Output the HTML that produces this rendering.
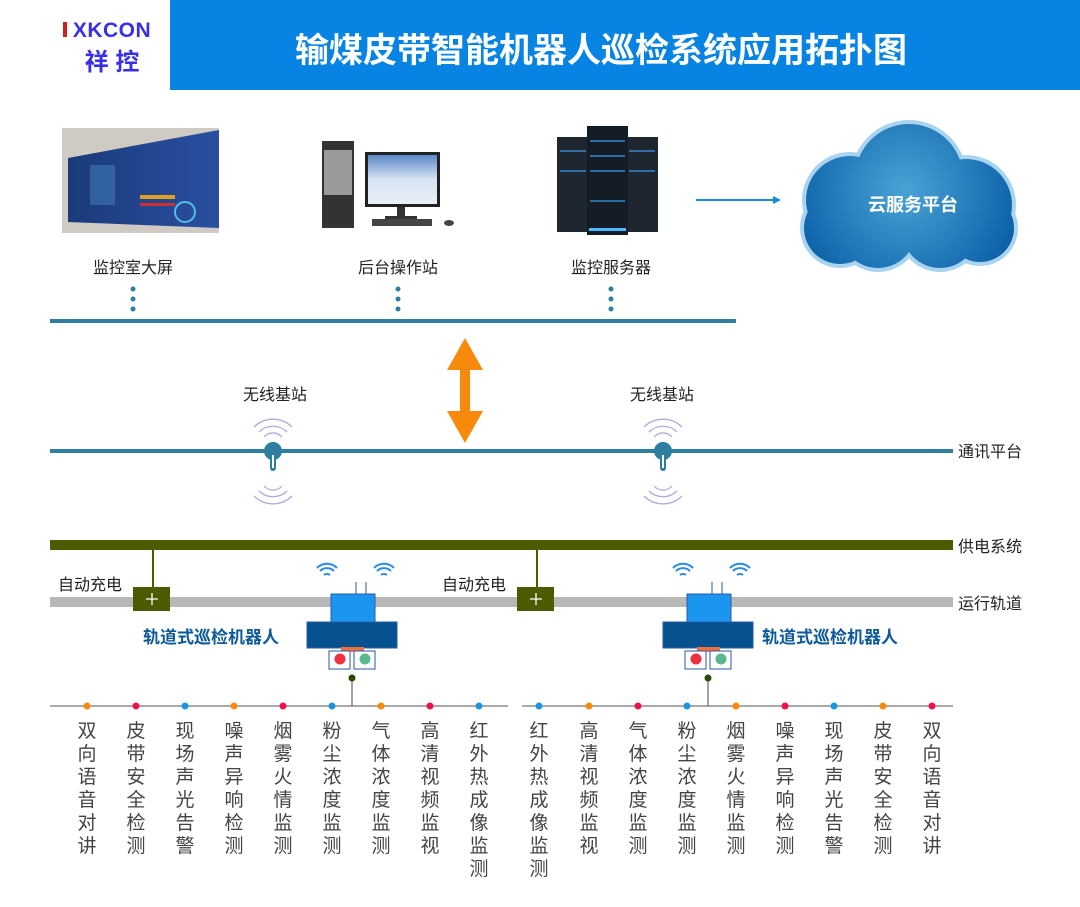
<!DOCTYPE html>
<html><head><meta charset="utf-8"><style>
body{margin:0;background:#fff}
svg{display:block}
text{font-family:"Liberation Sans","Noto Sans CJK SC",sans-serif}
</style></head><body>
<svg width="1080" height="907" viewBox="0 0 1080 907" xmlns="http://www.w3.org/2000/svg">
<defs>
<radialGradient id="cg" gradientUnits="userSpaceOnUse" cx="905" cy="190" r="120"><stop offset="0" stop-color="#4aa3d6"/><stop offset="1" stop-color="#0a5fa6"/></radialGradient>
<linearGradient id="scr" x1="0" x2="1"><stop offset="0" stop-color="#1a3a7a"/><stop offset="1" stop-color="#2a4fa0"/></linearGradient>
<linearGradient id="mon" x1="0" y1="0" x2="0" y2="1"><stop offset="0" stop-color="#5a88c8"/><stop offset="0.5" stop-color="#d8e4f2"/><stop offset="1" stop-color="#e8f0f8"/></linearGradient>
</defs>
<!-- header -->
<rect x="170" y="0" width="910" height="90" fill="#0784e3"/>
<text x="112" y="37" font-size="21" font-weight="bold" fill="#3a2ee8" text-anchor="middle" letter-spacing="0.5">XKCON</text>
<rect x="63" y="22" width="4" height="15" fill="#d02020"/>
<text x="112" y="70" font-size="24" font-weight="bold" fill="#3a2ee8" text-anchor="middle">祥 控</text>
<text x="601" y="62" font-size="34" font-weight="bold" fill="#fff" text-anchor="middle">输煤皮带智能机器人巡检系统应用拓扑图</text>
<!-- screen wall -->
<rect x="62" y="128" width="157" height="105" fill="#cfcac4"/>
<polygon points="68,158 219,130 219,228 68,222" fill="url(#scr)"/>
<rect x="90" y="165" width="25" height="40" fill="#3b6fb0" opacity="0.7"/>
<rect x="140" y="195" width="35" height="4" fill="#e0a020"/>
<rect x="140" y="203" width="35" height="3" fill="#d03030"/>
<circle cx="185" cy="212" r="10" fill="none" stroke="#4fc0e0" stroke-width="2"/>
<!-- PC -->
<rect x="322" y="141" width="32" height="87" fill="#333"/>
<rect x="324" y="150" width="28" height="45" fill="#9a9a9a"/>
<rect x="365" y="152" width="75" height="55" fill="#222"/>
<rect x="368" y="155" width="69" height="49" fill="url(#mon)"/>
<rect x="397" y="207" width="8" height="10" fill="#333"/>
<rect x="385" y="216" width="32" height="3" fill="#333"/>
<rect x="372" y="219" width="60" height="7" fill="#444"/>
<ellipse cx="449" cy="223" rx="5" ry="3" fill="#444"/>
<!-- servers -->
<rect x="557" y="137" width="32" height="95" fill="#1e2630"/>
<rect x="626" y="137" width="32" height="95" fill="#1e2630"/>
<rect x="587" y="126" width="41" height="109" fill="#141c26"/>
<g fill="#3a8fd8" opacity="0.7">
<rect x="590" y="140" width="35" height="2"/><rect x="590" y="155" width="35" height="2"/><rect x="590" y="170" width="35" height="2"/><rect x="590" y="200" width="35" height="2"/>
<rect x="560" y="150" width="26" height="2"/><rect x="560" y="170" width="26" height="2"/><rect x="629" y="150" width="26" height="2"/><rect x="629" y="170" width="26" height="2"/>
</g>
<rect x="589" y="228" width="37" height="3" fill="#4fb8ff"/>
<!-- labels -->
<g font-size="16" fill="#222" text-anchor="middle">
<text x="133" y="273">监控室大屏</text><text x="398" y="273">后台操作站</text><text x="611" y="273">监控服务器</text>
</g>
<g fill="#2e7f9f">
<circle cx="133" cy="289" r="2.5"/><circle cx="133" cy="299" r="2.5"/><circle cx="133" cy="309" r="2.5"/>
<circle cx="398" cy="289" r="2.5"/><circle cx="398" cy="299" r="2.5"/><circle cx="398" cy="309" r="2.5"/>
<circle cx="611" cy="289" r="2.5"/><circle cx="611" cy="299" r="2.5"/><circle cx="611" cy="309" r="2.5"/>
</g>
<rect x="50" y="319" width="686" height="4" fill="#2e7f9f"/>
<!-- arrow to cloud -->
<line x1="696" y1="200" x2="774" y2="200" stroke="#1a8ad8" stroke-width="2"/>
<polygon points="781,200 773,196 773,204" fill="#1a8ad8"/>
<!-- cloud -->
<g fill="#a8d4f0">
<circle cx="909" cy="178" r="58"/><circle cx="850" cy="200" r="48"/><circle cx="966" cy="205" r="50"/><circle cx="878" cy="230" r="42"/><circle cx="940" cy="230" r="42"/><circle cx="840" cy="228" r="40"/><circle cx="980" cy="228" r="38"/>
</g>
<g fill="url(#cg)">
<circle cx="909" cy="178" r="54"/><circle cx="850" cy="200" r="44"/><circle cx="966" cy="205" r="46"/><circle cx="878" cy="230" r="38"/><circle cx="940" cy="230" r="38"/><circle cx="840" cy="228" r="36"/><circle cx="980" cy="228" r="34"/>
</g>
<text x="913" y="211" font-size="18" font-weight="bold" fill="#fff" text-anchor="middle">云服务平台</text>
<!-- orange double arrow -->
<polygon points="465,338 483,370 470,370 470,411 483,411 465,443 447,411 460,411 460,370 447,370" fill="#f78a0c"/>
<!-- comm line -->
<rect x="50" y="449" width="903" height="4" fill="#2e7f9f"/>
<text x="958" y="457" font-size="16" fill="#222">通讯平台</text>
<g font-size="16" fill="#222" text-anchor="middle"><text x="275" y="400">无线基站</text><text x="662" y="400">无线基站</text></g>
<g id="bs">
<g fill="none" stroke="#b4a8dc" stroke-width="1.3">
<path d="M259,432 A20,20 0 0 1 287,432"/><path d="M254,427 A27,27 0 0 1 292,427"/><path d="M264,437 A12,12 0 0 1 282,437"/>
<path d="M259,491 A20,20 0 0 0 287,491"/><path d="M254,496 A27,27 0 0 0 292,496"/><path d="M264,486 A12,12 0 0 0 282,486"/>
</g>
<circle cx="273" cy="451" r="9" fill="#2e7f9f"/>
<rect x="270" y="451" width="6" height="20" rx="3" fill="#2e7f9f"/>
<rect x="272" y="455" width="2" height="13" fill="#fff"/>
</g>
<use href="#bs" x="390"/>
<!-- power -->
<rect x="50" y="540" width="903" height="10" fill="#4d5a00"/>
<text x="958" y="552" font-size="16" fill="#222">供电系统</text>
<rect x="50" y="597" width="903" height="10" fill="#b8b8b8"/>
<text x="958" y="609" font-size="16" fill="#222">运行轨道</text>
<g id="chg">
<line x1="153" y1="545" x2="153" y2="588" stroke="#4d5a00" stroke-width="2"/>
<rect x="133" y="587" width="37" height="24" fill="#4d5a00"/>
<path d="M152,593 v12 M146,599 h12" stroke="#fff" stroke-width="1.3"/>
<text x="58" y="590" font-size="16" fill="#222">自动充电</text>
</g>
<use href="#chg" x="384"/>
<!-- robot -->
<g id="rb">
<g fill="none" stroke="#2a8ae8" stroke-width="2">
<path d="M320,571 A10,10 0 0 1 334,571"/><path d="M317,568 A14,14 0 0 1 337,568"/><path d="M324,575 A5,5 0 0 1 330,575"/>
<path d="M377,571 A10,10 0 0 1 391,571"/><path d="M374,568 A14,14 0 0 1 394,568"/><path d="M381,575 A5,5 0 0 1 387,575"/>
</g>
<line x1="356" y1="582" x2="356" y2="594" stroke="#2a5aa8"/><line x1="366" y1="582" x2="366" y2="594" stroke="#2a5aa8"/>
<rect x="331" y="594" width="44" height="28" fill="#1a96f0" stroke="#2a5aa8"/>
<rect x="307" y="622" width="90" height="26" fill="#05528f" stroke="#2a5aa8"/>
<rect x="341" y="647" width="23" height="5" fill="#f07040"/>
<rect x="329" y="651" width="21" height="18" fill="#fff" stroke="#2a5aa8"/>
<rect x="354" y="651" width="21" height="18" fill="#fff" stroke="#2a5aa8"/>
<circle cx="340" cy="659" r="5.5" fill="#f03040"/><circle cx="365" cy="659" r="5.5" fill="#5ab890"/>
<line x1="352" y1="678" x2="352" y2="706" stroke="#444"/>
<circle cx="352" cy="678" r="3.5" fill="#2a4a00"/>
</g>
<use href="#rb" x="356"/>
<g font-size="17" font-weight="bold" fill="#0d5a9a"><text x="143" y="643">轨道式巡检机器人</text><text x="762" y="643">轨道式巡检机器人</text></g>
<!-- sensor lines -->
<line x1="50" y1="706" x2="508" y2="706" stroke="#555"/>
<line x1="522" y1="706" x2="953" y2="706" stroke="#555"/>
<g>
<circle cx="87" cy="706" r="3.5" fill="#f78a0c"/><circle cx="136" cy="706" r="3.5" fill="#f0104a"/><circle cx="185" cy="706" r="3.5" fill="#1a96e0"/>
<circle cx="234" cy="706" r="3.5" fill="#f78a0c"/><circle cx="283" cy="706" r="3.5" fill="#f0104a"/><circle cx="332" cy="706" r="3.5" fill="#1a96e0"/>
<circle cx="381" cy="706" r="3.5" fill="#f78a0c"/><circle cx="430" cy="706" r="3.5" fill="#f0104a"/><circle cx="479" cy="706" r="3.5" fill="#1a96e0"/>
<circle cx="539" cy="706" r="3.5" fill="#1a96e0"/><circle cx="589" cy="706" r="3.5" fill="#f78a0c"/><circle cx="638" cy="706" r="3.5" fill="#f0104a"/>
<circle cx="687" cy="706" r="3.5" fill="#1a96e0"/><circle cx="736" cy="706" r="3.5" fill="#f78a0c"/><circle cx="785" cy="706" r="3.5" fill="#f0104a"/>
<circle cx="834" cy="706" r="3.5" fill="#1a96e0"/><circle cx="883" cy="706" r="3.5" fill="#f78a0c"/><circle cx="932" cy="706" r="3.5" fill="#f0104a"/>
</g>
<g font-size="19" fill="#444" text-anchor="middle">
<text x="87" y="737"><tspan x="87">双</tspan><tspan x="87" dy="23">向</tspan><tspan x="87" dy="23">语</tspan><tspan x="87" dy="23">音</tspan><tspan x="87" dy="23">对</tspan><tspan x="87" dy="23">讲</tspan></text>
<text x="136" y="737"><tspan x="136">皮</tspan><tspan x="136" dy="23">带</tspan><tspan x="136" dy="23">安</tspan><tspan x="136" dy="23">全</tspan><tspan x="136" dy="23">检</tspan><tspan x="136" dy="23">测</tspan></text>
<text x="185" y="737"><tspan x="185">现</tspan><tspan x="185" dy="23">场</tspan><tspan x="185" dy="23">声</tspan><tspan x="185" dy="23">光</tspan><tspan x="185" dy="23">告</tspan><tspan x="185" dy="23">警</tspan></text>
<text x="234" y="737"><tspan x="234">噪</tspan><tspan x="234" dy="23">声</tspan><tspan x="234" dy="23">异</tspan><tspan x="234" dy="23">响</tspan><tspan x="234" dy="23">检</tspan><tspan x="234" dy="23">测</tspan></text>
<text x="283" y="737"><tspan x="283">烟</tspan><tspan x="283" dy="23">雾</tspan><tspan x="283" dy="23">火</tspan><tspan x="283" dy="23">情</tspan><tspan x="283" dy="23">监</tspan><tspan x="283" dy="23">测</tspan></text>
<text x="332" y="737"><tspan x="332">粉</tspan><tspan x="332" dy="23">尘</tspan><tspan x="332" dy="23">浓</tspan><tspan x="332" dy="23">度</tspan><tspan x="332" dy="23">监</tspan><tspan x="332" dy="23">测</tspan></text>
<text x="381" y="737"><tspan x="381">气</tspan><tspan x="381" dy="23">体</tspan><tspan x="381" dy="23">浓</tspan><tspan x="381" dy="23">度</tspan><tspan x="381" dy="23">监</tspan><tspan x="381" dy="23">测</tspan></text>
<text x="430" y="737"><tspan x="430">高</tspan><tspan x="430" dy="23">清</tspan><tspan x="430" dy="23">视</tspan><tspan x="430" dy="23">频</tspan><tspan x="430" dy="23">监</tspan><tspan x="430" dy="23">视</tspan></text>
<text x="479" y="737"><tspan x="479">红</tspan><tspan x="479" dy="23">外</tspan><tspan x="479" dy="23">热</tspan><tspan x="479" dy="23">成</tspan><tspan x="479" dy="23">像</tspan><tspan x="479" dy="23">监</tspan><tspan x="479" dy="23">测</tspan></text>
<text x="539" y="737"><tspan x="539">红</tspan><tspan x="539" dy="23">外</tspan><tspan x="539" dy="23">热</tspan><tspan x="539" dy="23">成</tspan><tspan x="539" dy="23">像</tspan><tspan x="539" dy="23">监</tspan><tspan x="539" dy="23">测</tspan></text>
<text x="589" y="737"><tspan x="589">高</tspan><tspan x="589" dy="23">清</tspan><tspan x="589" dy="23">视</tspan><tspan x="589" dy="23">频</tspan><tspan x="589" dy="23">监</tspan><tspan x="589" dy="23">视</tspan></text>
<text x="638" y="737"><tspan x="638">气</tspan><tspan x="638" dy="23">体</tspan><tspan x="638" dy="23">浓</tspan><tspan x="638" dy="23">度</tspan><tspan x="638" dy="23">监</tspan><tspan x="638" dy="23">测</tspan></text>
<text x="687" y="737"><tspan x="687">粉</tspan><tspan x="687" dy="23">尘</tspan><tspan x="687" dy="23">浓</tspan><tspan x="687" dy="23">度</tspan><tspan x="687" dy="23">监</tspan><tspan x="687" dy="23">测</tspan></text>
<text x="736" y="737"><tspan x="736">烟</tspan><tspan x="736" dy="23">雾</tspan><tspan x="736" dy="23">火</tspan><tspan x="736" dy="23">情</tspan><tspan x="736" dy="23">监</tspan><tspan x="736" dy="23">测</tspan></text>
<text x="785" y="737"><tspan x="785">噪</tspan><tspan x="785" dy="23">声</tspan><tspan x="785" dy="23">异</tspan><tspan x="785" dy="23">响</tspan><tspan x="785" dy="23">检</tspan><tspan x="785" dy="23">测</tspan></text>
<text x="834" y="737"><tspan x="834">现</tspan><tspan x="834" dy="23">场</tspan><tspan x="834" dy="23">声</tspan><tspan x="834" dy="23">光</tspan><tspan x="834" dy="23">告</tspan><tspan x="834" dy="23">警</tspan></text>
<text x="883" y="737"><tspan x="883">皮</tspan><tspan x="883" dy="23">带</tspan><tspan x="883" dy="23">安</tspan><tspan x="883" dy="23">全</tspan><tspan x="883" dy="23">检</tspan><tspan x="883" dy="23">测</tspan></text>
<text x="932" y="737"><tspan x="932">双</tspan><tspan x="932" dy="23">向</tspan><tspan x="932" dy="23">语</tspan><tspan x="932" dy="23">音</tspan><tspan x="932" dy="23">对</tspan><tspan x="932" dy="23">讲</tspan></text>
</g>
</svg>
</body></html>
